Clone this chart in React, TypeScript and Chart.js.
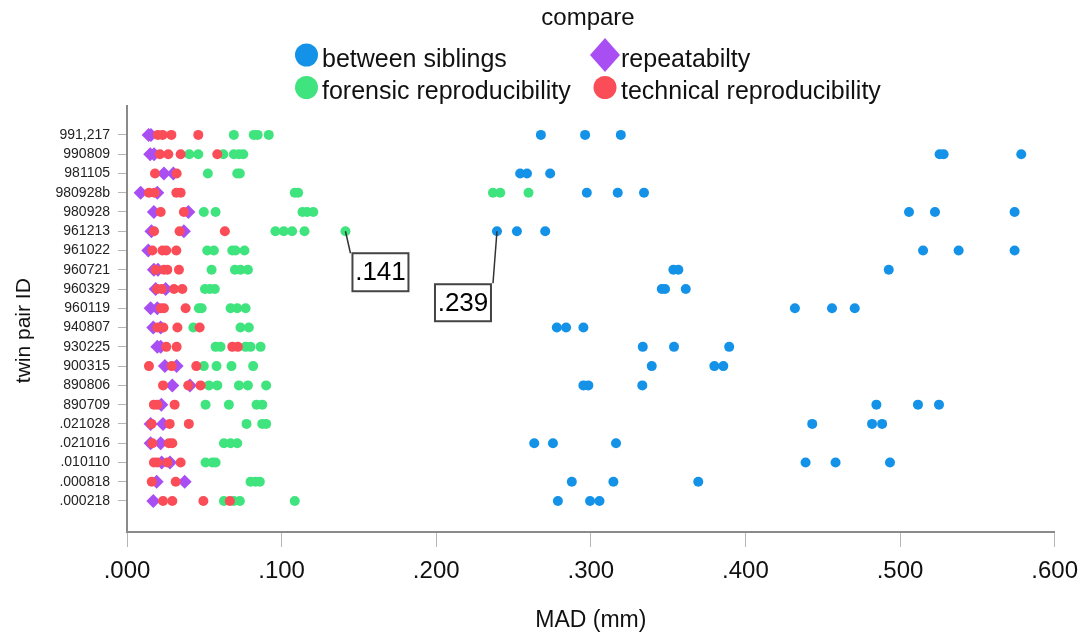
import React, { useEffect, useRef } from 'react';
import { Chart, registerables } from 'chart.js';

Chart.register(...registerables);

// ---------------- data ----------------
const pairIds = [
  '991,217', '990809', '981105', '980928b', '980928', '961213', '961022', '960721',
  '960329', '960119', '940807', '930225', '900315', '890806', '890709', '.021028',
  '.021016', '.010110', '.000818', '.000218',
];

const xTickValues = [0, 0.1, 0.2, 0.3, 0.4, 0.5, 0.6];

const betweenSiblings: number[][] = [
  [0.2677, 0.2963, 0.3194],
  [0.5256, 0.5282, 0.5784],
  [0.2543, 0.2587, 0.2737],
  [0.2974, 0.3174, 0.3344],
  [0.5058, 0.5226, 0.5741],
  [0.2393, 0.2522, 0.2705],
  [0.5149, 0.5379, 0.5741],
  [0.3534, 0.3566, 0.4927],
  [0.3459, 0.348, 0.3614],
  [0.432, 0.456, 0.4707],
  [0.278, 0.284, 0.2952],
  [0.3336, 0.3538, 0.3895],
  [0.3394, 0.3799, 0.3857],
  [0.2952, 0.2984, 0.3333],
  [0.4847, 0.5116, 0.5252],
  [0.4432, 0.4819, 0.4884],
  [0.2634, 0.2755, 0.3163],
  [0.4389, 0.4583, 0.4935],
  [0.2877, 0.3146, 0.3695],
  [0.2787, 0.2995, 0.3056],
];

const forensicReproducibility: number[][] = [
  [0.0691, 0.082, 0.0845, 0.0917],
  [0.0403, 0.0461, 0.0623, 0.0691, 0.0724, 0.0752],
  [0.0523, 0.0713, 0.073],
  [0.1085, 0.1107, 0.2367, 0.2414, 0.2597],
  [0.0497, 0.0573, 0.1135, 0.1165, 0.1205],
  [0.096, 0.1014, 0.1068, 0.1148, 0.1413],
  [0.0519, 0.0562, 0.0681, 0.0702, 0.076],
  [0.0547, 0.0698, 0.0734, 0.0782],
  [0.0504, 0.0536, 0.0568],
  [0.0465, 0.0483, 0.067, 0.0713, 0.0767],
  [0.0429, 0.0734, 0.0788],
  [0.0573, 0.0605, 0.0767, 0.0799, 0.0864],
  [0.0497, 0.0579, 0.0676, 0.0816],
  [0.053, 0.0584, 0.0724, 0.0782, 0.09],
  [0.0508, 0.0659, 0.0838, 0.0875],
  [0.0773, 0.0875, 0.09],
  [0.0627, 0.067, 0.0713],
  [0.0508, 0.0552, 0.0573],
  [0.0799, 0.0831, 0.0859],
  [0.0627, 0.0691, 0.073, 0.1085],
];

const repeatability: number[][] = [
  [0.014, 0.0155],
  [0.015, 0.0175],
  [0.0239, 0.03],
  [0.0088, 0.0196],
  [0.0174, 0.0397],
  [0.0158, 0.0368],
  [0.0138],
  [0.0174, 0.02],
  [0.0185, 0.025],
  [0.0153, 0.0196],
  [0.017, 0.0218],
  [0.0196, 0.0218],
  [0.0245, 0.0321],
  [0.0293, 0.0407],
  [0.0222],
  [0.0153, 0.0233],
  [0.0153, 0.0218],
  [0.0224, 0.0278],
  [0.0192, 0.0373],
  [0.017],
];

const technicalReproducibility: number[][] = [
  [0.02, 0.023, 0.0287, 0.0461],
  [0.0213, 0.0267, 0.0347, 0.0584],
  [0.0181, 0.0321],
  [0.0142, 0.0179, 0.0319, 0.0347],
  [0.0218, 0.0368],
  [0.0175, 0.034, 0.0633],
  [0.0164, 0.0229, 0.0254, 0.0319],
  [0.0185, 0.0239, 0.0261, 0.0336],
  [0.0195, 0.0225, 0.0304, 0.0358],
  [0.0218, 0.0239, 0.0379],
  [0.0196, 0.0235, 0.0326, 0.047],
  [0.0254, 0.0321, 0.0681, 0.0717],
  [0.0142, 0.0289, 0.0448],
  [0.0233, 0.0397, 0.0476],
  [0.0174, 0.0196, 0.0308],
  [0.0158, 0.0276, 0.04],
  [0.0164, 0.0271, 0.0293],
  [0.0174, 0.0196, 0.0261, 0.0347],
  [0.016, 0.0315],
  [0.0233, 0.0293, 0.0494, 0.0665],
];

// labelled points: [series key, row index, value]
const labelledPoints: { series: string; row: number; value: number }[] = [
  { series: 'forensic', row: 5, value: 0.1413 },
  { series: 'siblings', row: 5, value: 0.2393 },
];

// ---------------- styles ----------------
const FONT = "'Liberation Sans', Arial, Helvetica, sans-serif";
const BLUE = '#1492E8';
const GREEN = '#40E47E';
const PURPLE = '#A94EF2';
const RED = '#FA4D58';

const fmt = (v: number) => v.toFixed(3).replace(/^0/, '');

const toPoints = (rows: number[][]) =>
  rows.flatMap((vals, i) => vals.map((v) => ({ x: v, y: i })));

const legendItems = [
  { label: 'between siblings', color: BLUE, shape: 'circle', cx: 306.5, cy: 55, tx: 322, ty: 67 },
  { label: 'repeatabilty', color: PURPLE, shape: 'diamond', cx: 605, cy: 55, tx: 621, ty: 67 },
  { label: 'forensic reproducibility', color: GREEN, shape: 'circle', cx: 306.5, cy: 87.5, tx: 322, ty: 99 },
  { label: 'technical reproducibility', color: RED, shape: 'circle', cx: 605, cy: 87.5, tx: 621, ty: 99 },
];

const legendPlugin = {
  id: 'spssLegend',
  afterDraw(chart: any) {
    const ctx = chart.ctx as CanvasRenderingContext2D;
    ctx.save();
    ctx.fillStyle = '#111';
    ctx.font = `24px ${FONT}`;
    ctx.textAlign = 'center';
    ctx.textBaseline = 'alphabetic';
    ctx.fillText('compare', 588, 25);
    ctx.textAlign = 'left';
    ctx.font = `25px ${FONT}`;
    for (const it of legendItems) {
      ctx.fillStyle = it.color;
      ctx.beginPath();
      if (it.shape === 'circle') {
        ctx.arc(it.cx, it.cy, 11.5, 0, Math.PI * 2);
      } else {
        ctx.moveTo(it.cx, it.cy - 17);
        ctx.lineTo(it.cx + 15, it.cy);
        ctx.lineTo(it.cx, it.cy + 17);
        ctx.lineTo(it.cx - 15, it.cy);
        ctx.closePath();
      }
      ctx.fill();
      ctx.fillStyle = '#111';
      ctx.fillText(it.label, it.tx, it.ty);
    }
    ctx.restore();
  },
};

const calloutStyle: Record<string, { dx: number; dy: number; w: number; h: number; lx: number; ly: number }> = {
  forensic: { dx: 7, dy: 22, w: 56, h: 38, lx: 5, ly: 22 },
  siblings: { dx: -62, dy: 53, w: 56, h: 37, lx: -4, ly: 52 },
};

const calloutPlugin = {
  id: 'callouts',
  afterDatasetsDraw(chart: any) {
    const ctx = chart.ctx as CanvasRenderingContext2D;
    const xs = chart.scales.x;
    const ys = chart.scales.y;
    ctx.save();
    for (const p of labelledPoints) {
      const st = calloutStyle[p.series];
      const px = xs.getPixelForValue(p.value);
      const py = ys.getPixelForValue(p.row);
      ctx.strokeStyle = '#333';
      ctx.lineWidth = 1.5;
      ctx.beginPath();
      ctx.moveTo(px, py);
      ctx.lineTo(px + st.lx, py + st.ly);
      ctx.stroke();
      const bx = px + st.dx;
      const by = py + st.dy;
      ctx.fillStyle = '#fff';
      ctx.fillRect(bx, by, st.w, st.h);
      ctx.strokeStyle = '#444';
      ctx.lineWidth = 2;
      ctx.strokeRect(bx, by, st.w, st.h);
      ctx.fillStyle = '#000';
      ctx.font = `26px ${FONT}`;
      ctx.textAlign = 'center';
      ctx.textBaseline = 'middle';
      ctx.fillText(fmt(p.value), bx + st.w / 2, by + st.h / 2 + 1);
    }
    ctx.restore();
  },
};

export default function App() {
  const canvasRef = useRef<HTMLCanvasElement | null>(null);

  useEffect(() => {
    if (!canvasRef.current) return;
    const circle = { pointStyle: 'circle', pointRadius: 5, borderWidth: 0 };
    const chart = new Chart(canvasRef.current, {
      type: 'scatter',
      data: {
        datasets: [
          {
            label: 'technical reproducibility',
            data: toPoints(technicalReproducibility),
            backgroundColor: RED,
            borderColor: RED,
            ...circle,
          },
          {
            label: 'repeatabilty',
            data: toPoints(repeatability),
            backgroundColor: PURPLE,
            borderColor: PURPLE,
            pointStyle: 'rectRot',
            pointRadius: 7,
            borderWidth: 0,
          },
          {
            label: 'forensic reproducibility',
            data: toPoints(forensicReproducibility),
            backgroundColor: GREEN,
            borderColor: GREEN,
            ...circle,
          },
          {
            label: 'between siblings',
            data: toPoints(betweenSiblings),
            backgroundColor: BLUE,
            borderColor: BLUE,
            ...circle,
          },
        ] as any,
      },
      options: {
        animation: false,
        responsive: true,
        maintainAspectRatio: false,
        devicePixelRatio: 1,
        events: [],
        layout: { padding: { top: 106, right: 32, left: 0, bottom: 0 } },
        plugins: {
          legend: { display: false },
          tooltip: { enabled: false },
          title: { display: false },
        },
        scales: {
          x: {
            type: 'linear',
            min: 0,
            max: 0.6,
            afterBuildTicks: (s: any) => {
              s.ticks = xTickValues.map((v) => ({ value: v }));
            },
            afterFit: (s: any) => {
              s.height = 102;
            },
            ticks: {
              callback: (v: any) => fmt(Number(v)),
              font: { family: FONT, size: 24 },
              color: '#111',
              padding: 10,
              maxRotation: 0,
              autoSkip: false,
            },
            grid: {
              display: true,
              drawOnChartArea: false,
              drawTicks: true,
              tickLength: 15,
              color: '#b5b5b5',
              lineWidth: 1,
            },
            border: { display: true, color: '#8a8a8a', width: 2 },
            title: {
              display: true,
              text: 'MAD (mm)',
              font: { family: FONT, size: 23 },
              color: '#111',
              padding: { top: 0, bottom: 0 },
            },
          },
          y: {
            type: 'linear',
            reverse: true,
            min: -1.5,
            max: 20.61,
            afterBuildTicks: (s: any) => {
              s.ticks = pairIds.map((_, i) => ({ value: i }));
            },
            afterFit: (s: any) => {
              s.width = 127;
            },
            ticks: {
              callback: (v: any) => pairIds[Number(v)] ?? '',
              font: { family: FONT, size: 14 },
              color: '#222',
              padding: 8,
              autoSkip: false,
            },
            grid: {
              display: true,
              drawOnChartArea: false,
              drawTicks: true,
              tickLength: 9,
              color: '#b5b5b5',
              lineWidth: 1,
            },
            border: { display: true, color: '#8a8a8a', width: 2 },
            title: {
              display: true,
              text: 'twin pair ID    ',
              font: { family: FONT, size: 21 },
              color: '#111',
              padding: { top: 12, bottom: 0 },
            },
          },
        },
      } as any,
      plugins: [legendPlugin, calloutPlugin],
    });
    return () => chart.destroy();
  }, []);

  return (
    <div style={{ position: 'absolute', left: 0, top: 0, width: 1088, height: 634, background: '#fff' }}>
      <canvas ref={canvasRef} />
    </div>
  );
}
